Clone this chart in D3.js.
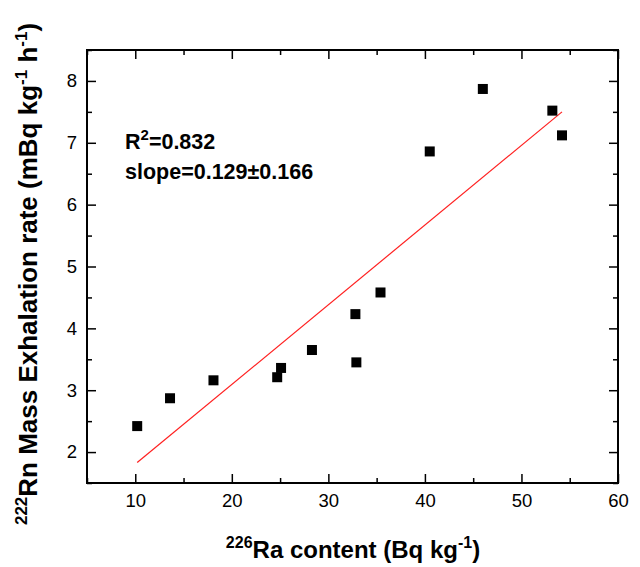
<!DOCTYPE html>
<html>
<head>
<meta charset="utf-8">
<script src="https://cdn.jsdelivr.net/npm/d3@7"></script>
<style>
body { margin: 0; background: #fff; }
text { font-family: Arial, "Liberation Sans", sans-serif; }
</style>
</head>
<body>
<script>
// 226Ra content (Bq/kg) vs 222Rn mass exhalation rate
var raContent = [10.2, 13.6, 18.1, 24.7, 25.1, 28.3, 32.9, 32.8, 35.4, 40.5, 46.0, 53.2, 54.2]
var rnExhalation = [2.42, 2.87, 3.16, 3.21, 3.36, 3.65, 3.45, 4.23, 4.58, 6.86, 7.87, 7.52, 7.12]

// fitted line end points
var fitX = [10.2, 54.2]
var fitY = [1.83, 7.50]

var xTicks = [10, 20, 30, 40, 50, 60]
var xMinor = [5, 15, 25, 35, 45, 55]
var yTicks = [2, 3, 4, 5, 6, 7, 8]
var yMinor = [1.5, 2.5, 3.5, 4.5, 5.5, 6.5, 7.5, 8.5]

var largura = 640, altura = 567
var esq = 87, dir = 618, topo = 50, base = 483

var svg = d3.select("body").append("svg")
    .attr("width", largura)
    .attr("height", altura)

var escalaX = d3.scaleLinear().domain([5, 60]).range([esq, dir])
var escalaY = d3.scaleLinear().domain([1.5, 8.5]).range([base, topo])

function estilo(g) {
    g.select(".domain").remove()
    g.selectAll(".tick line").attr("stroke", "#000").attr("stroke-width", 1.5)
    g.selectAll(".tick text").attr("fill", "#000").style("font-size", "18.5px")
}

// bottom
svg.append("g").attr("transform", "translate(0," + base + ")")
    .call(d3.axisBottom(escalaX).tickValues(xTicks).tickSize(-9).tickPadding(11).tickFormat(d3.format("d")))
    .call(estilo)
svg.append("g").attr("transform", "translate(0," + base + ")")
    .call(d3.axisBottom(escalaX).tickValues(xMinor).tickSize(-5).tickFormat(""))
    .call(estilo)
// top
svg.append("g").attr("transform", "translate(0," + topo + ")")
    .call(d3.axisTop(escalaX).tickValues(xTicks).tickSize(-9).tickFormat(""))
    .call(estilo)
svg.append("g").attr("transform", "translate(0," + topo + ")")
    .call(d3.axisTop(escalaX).tickValues(xMinor).tickSize(-5).tickFormat(""))
    .call(estilo)
// left
svg.append("g").attr("transform", "translate(" + esq + ",0)")
    .call(d3.axisLeft(escalaY).tickValues(yTicks).tickSize(-9).tickPadding(10).tickFormat(d3.format("d")))
    .call(estilo)
svg.append("g").attr("transform", "translate(" + esq + ",0)")
    .call(d3.axisLeft(escalaY).tickValues(yMinor).tickSize(-5).tickFormat(""))
    .call(estilo)
// right
svg.append("g").attr("transform", "translate(" + dir + ",0)")
    .call(d3.axisRight(escalaY).tickValues(yTicks).tickSize(-9).tickFormat(""))
    .call(estilo)
svg.append("g").attr("transform", "translate(" + dir + ",0)")
    .call(d3.axisRight(escalaY).tickValues(yMinor).tickSize(-5).tickFormat(""))
    .call(estilo)

// frame
svg.append("rect")
    .attr("x", esq).attr("y", topo)
    .attr("width", dir - esq).attr("height", base - topo)
    .attr("fill", "none").attr("stroke", "#000").attr("stroke-width", 2)

// fit line
svg.append("line")
    .attr("x1", escalaX(fitX[0])).attr("y1", escalaY(fitY[0]))
    .attr("x2", escalaX(fitX[1])).attr("y2", escalaY(fitY[1]))
    .attr("stroke", "#ff2020").attr("stroke-width", 1.2)

// points
var lado = 10
svg.selectAll("rect.ponto")
    .data(raContent)
    .enter().append("rect")
    .attr("class", "ponto")
    .attr("x", (d, i) => escalaX(d) - lado / 2)
    .attr("y", (d, i) => escalaY(rnExhalation[i]) - lado / 2)
    .attr("width", lado).attr("height", lado)
    .attr("fill", "#000")

// stats text
var r2 = svg.append("text").attr("x", 125).attr("y", 149)
    .style("font-size", "21.5px").style("font-weight", "bold")
r2.append("tspan").text("R")
r2.append("tspan").text("2").attr("dy", -9).style("font-size", "15px")
r2.append("tspan").text("=0.832").attr("dy", 9)

svg.append("text").attr("x", 125).attr("y", 179)
    .style("font-size", "21.5px").style("font-weight", "bold")
    .text("slope=0.129\u00b10.166")

// x label
var xl = svg.append("text")
    .attr("x", 353).attr("y", 558)
    .attr("text-anchor", "middle")
    .style("font-size", "24px").style("font-weight", "bold")
xl.append("tspan").text("226").attr("dy", -10).style("font-size", "16px")
xl.append("tspan").text("Ra content (Bq kg").attr("dy", 10)
xl.append("tspan").text("-1").attr("dy", -10).style("font-size", "16px")
xl.append("tspan").text(")").attr("dy", 10)

// y label
var yl = svg.append("text")
    .attr("transform", "translate(37,274) rotate(-90)")
    .attr("text-anchor", "middle")
    .style("font-size", "26px").style("font-weight", "bold")
yl.append("tspan").text("222").attr("dy", -10).style("font-size", "17px")
yl.append("tspan").text("Rn Mass Exhalation rate (mBq kg").attr("dy", 10)
yl.append("tspan").text("-1").attr("dy", -10).style("font-size", "17px")
yl.append("tspan").text(" h").attr("dy", 10)
yl.append("tspan").text("-1").attr("dy", -10).style("font-size", "17px")
yl.append("tspan").text(")").attr("dy", 10)
</script>
</body>
</html>
